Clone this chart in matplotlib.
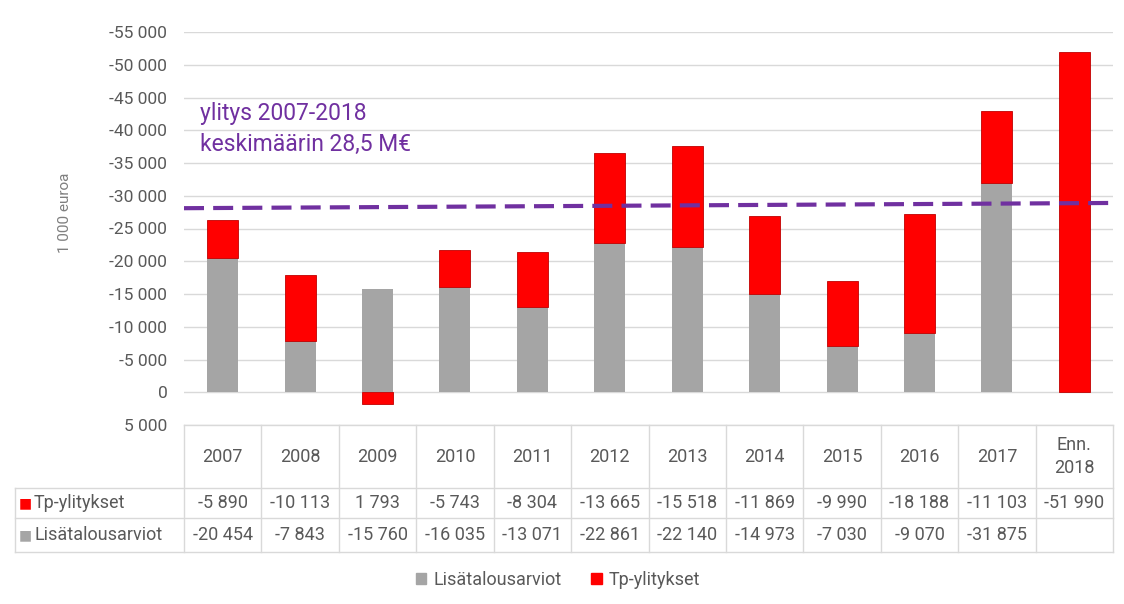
import matplotlib.pyplot as plt
from matplotlib.patches import Patch
import matplotlib.transforms as mtransforms

# data
years = ['2007', '2008', '2009', '2010', '2011', '2012', '2013', '2014',
         '2015', '2016', '2017', 'Enn.\n2018']
tp_ylitykset = [-5890, -10113, 1793, -5743, -8304, -13665, -15518, -11869,
                -9990, -18188, -11103, -51990]
lisatalousarviot = [-20454, -7843, -15760, -16035, -13071, -22861, -22140,
                    -14973, -7030, -9070, -31875, None]
avg_line = [-28100, -28900]  # hand drawn dashed line, left/right end
yticks = list(range(-55000, 5001, 5000))

GRAY = '#A5A5A5'
RED = '#FF0000'
PURPLE = '#7030A0'
TXT = '#595959'
GRID = '#D9D9D9'

plt.rcParams['font.family'] = ['Roboto', 'DejaVu Sans']

W, H = 1124, 604
fig = plt.figure(figsize=(W / 100, H / 100), dpi=100)
ax = fig.add_axes([184 / W, 1 - 425 / H, (1113 - 184) / W, (425 - 32) / H])

n = len(years)
x = list(range(n))
gray_vals = [v if v is not None else 0 for v in lisatalousarviot]
red_bottom = [g if t < 0 else 0 for g, t in zip(gray_vals, tp_ylitykset)]

ax.bar(x, gray_vals, width=0.4, color=GRAY, zorder=2)
ax.bar(x, tp_ylitykset, bottom=red_bottom, width=0.4, color=RED,
       edgecolor='#C00000', linewidth=0.6, zorder=2)

ax.set_xlim(-0.5, n - 0.5)
ax.set_ylim(5000, -55000)
ax.set_yticks(yticks)
ax.set_yticklabels([f'{v:,}'.replace(',', ' ') for v in yticks])
ax.tick_params(axis='y', length=0, pad=12, labelsize=12.5, labelcolor=TXT)
ax.set_xticks([])
ax.grid(axis='y', color=GRID, linewidth=1, zorder=0)
for s in ax.spines.values():
    s.set_visible(False)
ax.set_ylabel('1 000 euroa', fontsize=11, color='#7F7F7F', labelpad=0)
ax.yaxis.set_label_coords(-112 / 929, 0.54)

# average dashed line
ax.plot([-0.5, n - 0.5], avg_line, color=PURPLE, linewidth=3,
        dashes=(4.8, 2.2), zorder=3)
fig.text(200 / W, 1 - 151 / H, 'ylitys 2007-2018\nkeskimäärin 28,5 M€',
         fontsize=16.5, color=PURPLE, va='baseline', linespacing=1.45)

# data table
trans = mtransforms.blended_transform_factory(ax.transData, fig.transFigure)


def fy(px):
    return 1 - px / H


row_y = [425, 488, 518, 552]
left_px = 15 / W
fig.add_artist(plt.Line2D([184 / W, 1113 / W], [fy(425)] * 2, color=GRID, lw=1))
for yy in row_y[1:]:
    fig.add_artist(plt.Line2D([left_px, 1113 / W], [fy(yy)] * 2, color=GRID, lw=1))
fig.add_artist(plt.Line2D([left_px] * 2, [fy(488), fy(552)], color=GRID, lw=1))
for i in range(n + 1):
    xx = (184 + i * (1113 - 184) / n) / W
    fig.add_artist(plt.Line2D([xx] * 2, [fy(425), fy(552)], color=GRID, lw=1))

for i in range(n):
    fig.text(i, fy((425 + 488) / 2), years[i], transform=trans, ha='center',
             va='center', fontsize=13, color=TXT, linespacing=1.4)
    fig.text(i, fy((488 + 518) / 2), f'{tp_ylitykset[i]:,}'.replace(',', ' '),
             transform=trans, ha='center', va='center', fontsize=13, color=TXT)
    if lisatalousarviot[i] is not None:
        fig.text(i, fy((518 + 552) / 2),
                 f'{lisatalousarviot[i]:,}'.replace(',', ' '),
                 transform=trans, ha='center', va='center', fontsize=13, color=TXT)

for label, col, yy in [('Tp-ylitykset', RED, (488 + 518) / 2),
                       ('Lisätalousarviot', GRAY, (518 + 552) / 2)]:
    fig.text(19 / W, fy(yy), '■', color=col, fontsize=10, va='center',
             family='DejaVu Sans')
    fig.text(34 / W, fy(yy), label, color=TXT, fontsize=13, va='center')

handles = [Patch(color=GRAY, label='Lisätalousarviot'),
           Patch(color=RED, label='Tp-ylitykset')]
fig.legend(handles=handles, loc='center', bbox_to_anchor=(558 / W, fy(580)),
           ncol=2, frameon=False, fontsize=13, handlelength=0.6,
           handleheight=0.6, handletextpad=0.4, columnspacing=1.6,
           labelcolor=TXT)

fig.savefig('out.png', dpi=100)
